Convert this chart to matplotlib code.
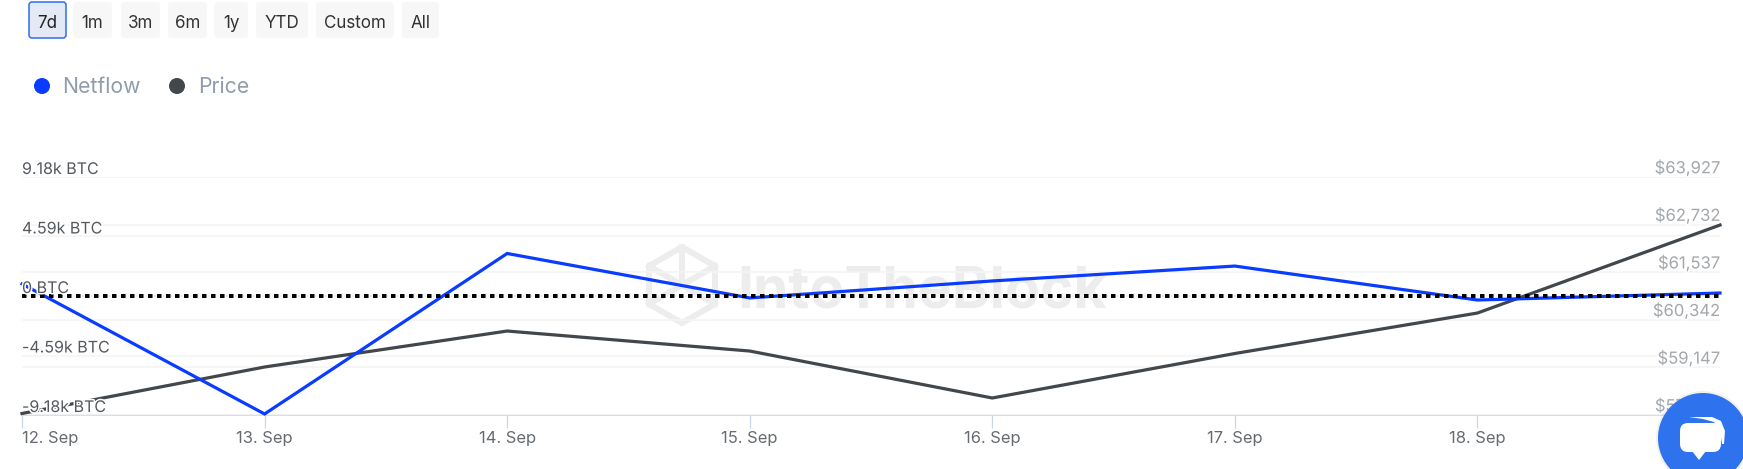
import matplotlib
matplotlib.use("Agg")
import matplotlib.pyplot as plt
import matplotlib.patheffects as pe
from matplotlib.patches import Circle, FancyBboxPatch, Polygon

plt.rcParams['font.family'] = ['Inter', 'DejaVu Sans']

W, H = 1743, 469

dates = ["12. Sep", "13. Sep", "14. Sep", "15. Sep", "16. Sep", "17. Sep", "18. Sep", "19. Sep"]
netflow = [0.93, -9.1, 3.28, -0.15, 1.16, 2.31, -0.31, 0.23]
price = [57990, 59157, 60060, 59558, 58379, 59496, 60512, 62721]

netflow_ticks = [-9.18, -4.59, 0, 4.59, 9.18]
netflow_labels = ["-9.18k BTC", "-4.59k BTC", "0 BTC", "4.59k BTC", "9.18k BTC"]
price_ticks = [57952, 59147, 60342, 61537, 62732, 63927]
price_labels = ["$57,952", "$59,147", "$60,342", "$61,537", "$62,732", "$63,927"]

buttons = ["7d", "1m", "3m", "6m", "1y", "YTD", "Custom", "All"]
button_x = [(29, 66), (73, 112), (121, 160), (168, 207), (214, 248), (256, 308), (316, 394), (402, 439)]

BLUE = "#0a3cff"
DARK = "#42474c"
GRID = "#f5f5f5"
MARK = "#ededed"


def px(size):
    # sizes below are in screen pixels
    return size * 0.72


fig = plt.figure(figsize=(W / 100, H / 100), dpi=100, facecolor="white")

# background layer for the watermark
bg = fig.add_axes([0, 0, 1, 1], zorder=0)
bg.set_xlim(0, W)
bg.set_ylim(H, 0)
bg.axis("off")
bg.add_patch(Polygon([(682, 247), (715, 266), (715, 304), (682, 323), (649, 304), (649, 266)],
                     closed=True, fill=False, ec=MARK, lw=px(6)))
bg.plot([649, 682, 715], [266, 285, 266], color=MARK, lw=px(6))
bg.plot([649, 682, 715], [304, 285, 304], color=MARK, lw=px(6))
bg.plot([682, 682], [247, 285], color=MARK, lw=px(6))
bg.text(737, 292, "IntoTheBlock", color=MARK, fontsize=px(57), fontweight="bold", va="center", ha="left")

rect = [22 / W, (H - 415) / H, (1720 - 22) / W, (415 - 177) / H]
ax = fig.add_axes(rect, zorder=1)
ax.patch.set_alpha(0)
ax2 = ax.twinx()
ax2.patch.set_alpha(0)

x = list(range(len(dates)))

ax.set_xlim(0, len(dates) - 1)
ax.set_ylim(-9.18, 9.18)
ax2.set_ylim(57952, 63927)

ax.set_yticks(netflow_ticks)
ax2.set_yticks(price_ticks)
ax.tick_params(axis="y", left=False, labelleft=False)
ax2.tick_params(axis="y", right=False, labelright=False)
ax.grid(axis="y", color=GRID, lw=1.2)
ax2.grid(axis="y", color=GRID, lw=1.2)
ax.set_axisbelow(True)
ax2.set_axisbelow(True)

ax.set_xticks(x)
ax.set_xticklabels(["" for d in dates])
ax.tick_params(axis="x", length=px(13), width=0.9, color="#ccd6eb")

for a in (ax, ax2):
    for side in ("top", "left", "right", "bottom"):
        a.spines[side].set_visible(False)
ax.spines["bottom"].set_visible(True)
ax.spines["bottom"].set_color("#ccd6eb")
ax.spines["bottom"].set_linewidth(1.1)

ax2.plot(x, price, color=DARK, lw=px(3.2), solid_joinstyle="miter", zorder=3, clip_on=False)

# netflow goes on the second axes too, through its own transform, so it sits above price
ax2.plot(x, netflow, color=BLUE, lw=px(3.2), solid_joinstyle="miter", zorder=4,
         transform=ax.transData, clip_on=False)
ax2.plot([0, len(dates) - 1], [0, 0], color="black", lw=px(4), linestyle=(0, (1.125, 1.125)),
         dash_capstyle="butt", zorder=5, transform=ax.transData)

halo = [pe.withStroke(linewidth=px(3), foreground="white")]
for v, label in zip(netflow_ticks, netflow_labels):
    ax2.annotate(label, xy=(0, v), xycoords=ax.get_yaxis_transform(), xytext=(0, px(7.5)),
                 textcoords="offset points", ha="left", va="center", fontsize=px(16),
                 color="#555a5f", zorder=6, path_effects=halo)
for v, label in zip(price_ticks, price_labels):
    ax2.annotate(label, xy=(1, v), xycoords=ax2.get_yaxis_transform(), xytext=(0, px(9)),
                 textcoords="offset points", ha="right", va="center", fontsize=px(16.6),
                 color="#a3a7ab", zorder=6, path_effects=halo)
# the last date sits under the chat bubble, so it gets a tick but no label
for i, d in zip(x[:-1], dates[:-1]):
    ha = "left" if i == 0 else "center"
    ax2.annotate(d, xy=(i, 0), xycoords=ax.get_xaxis_transform(), xytext=(0, -px(23)),
                 textcoords="offset points", ha=ha, va="center", fontsize=px(16.6),
                 color="#666b70", annotation_clip=False)

# overlay layer for the page controls, in pixel coordinates
ui = fig.add_axes([0, 0, 1, 1], zorder=2)
ui.set_xlim(0, W)
ui.set_ylim(H, 0)
ui.axis("off")
ui.patch.set_alpha(0)

for i, (label, (x0, x1)) in enumerate(zip(buttons, button_x)):
    active = i == 0
    ui.add_patch(FancyBboxPatch((x0 + 2, 4), x1 - x0 - 4, 32, boxstyle="round,pad=2,rounding_size=3",
                                fc="#e3e9f5" if active else "#f7f7f7",
                                ec="#2a6af0" if active else "none", lw=px(1.5)))
    ui.text((x0 + x1) / 2, 23, label, ha="center", va="center", fontsize=px(17),
            color="#222222" if active else "#333333")

ui.add_patch(Circle((42, 86), 8, fc=BLUE, ec="none"))
ui.text(62, 87, "Netflow", ha="left", va="center", fontsize=px(21.2), color="#8f9dab")
ui.add_patch(Circle((177, 86), 8, fc=DARK, ec="none"))
ui.text(198, 87, "Price", ha="left", va="center", fontsize=px(21.2), color="#8f9dab")

# chat bubble
ui.add_patch(Circle((1703, 438), 47, fc="black", alpha=0.06, ec="none"))
ui.add_patch(Circle((1703, 438), 45, fc="#2f72ee", ec="none"))
ui.add_patch(Polygon([(1689, 417), (1712, 417), (1721, 421), (1725, 431), (1724, 444), (1722, 444),
                      (1720, 431), (1714, 422), (1703, 419)], closed=True, fc="white", ec="none"))
ui.add_patch(FancyBboxPatch((1686, 429), 29, 17, boxstyle="round,pad=6,rounding_size=8", fc="white", ec="none"))
ui.add_patch(Polygon([(1692, 451), (1706, 451), (1699, 460)], closed=True, fc="white", ec="none"))

fig.savefig("out.png", dpi=100, facecolor="white")
